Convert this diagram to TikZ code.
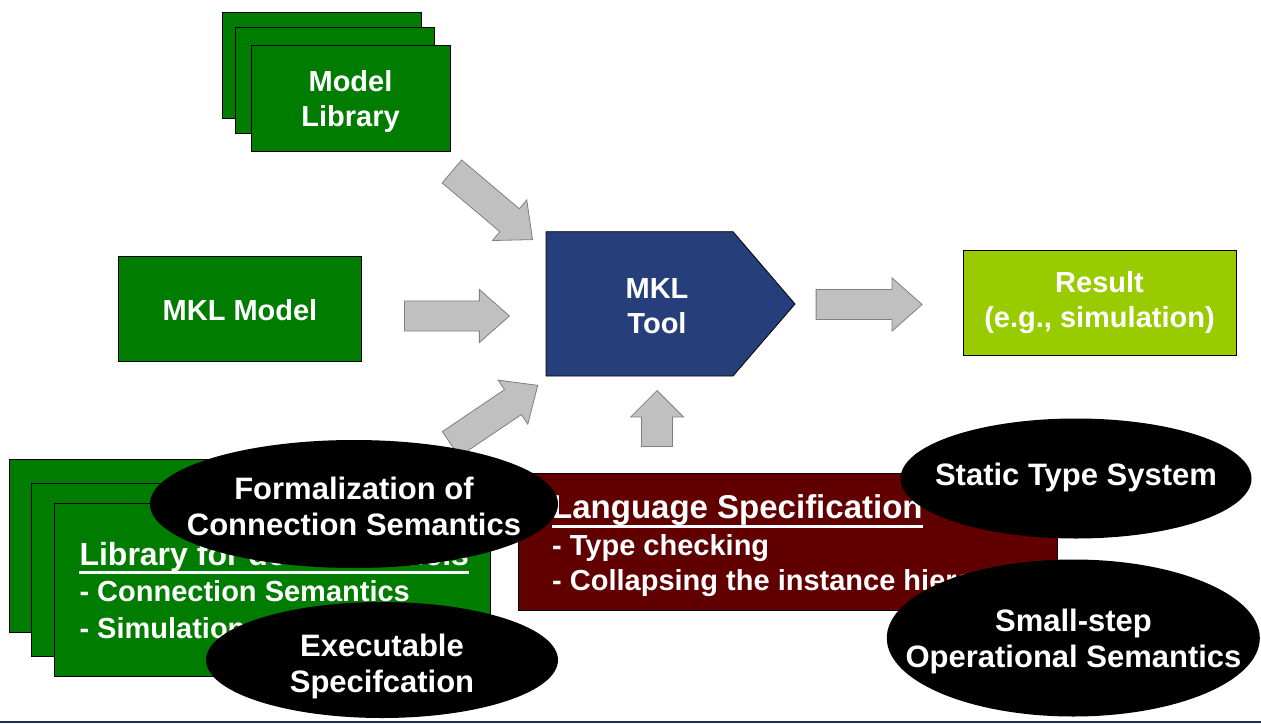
\documentclass[tikz,border=0pt]{standalone}
\usepackage{fontspec}
\setmainfont{Liberation Sans}
\usetikzlibrary{shapes.geometric,shapes.arrows}
\definecolor{boxgreen}{RGB}{0,125,0}
\definecolor{toolblue}{RGB}{38,62,122}
\definecolor{resultlime}{RGB}{153,204,0}
\definecolor{specred}{RGB}{96,0,0}
\definecolor{arrowfill}{RGB}{192,192,192}
\definecolor{arrowline}{RGB}{128,128,128}
\definecolor{navyline}{RGB}{30,40,90}
\begin{document}
\begin{tikzpicture}[x=1pt,y=-1pt,
  gbox/.style={draw=black, fill=boxgreen, line width=0.8, inner sep=0, rectangle},
  boxtext/.style={text=white, align=center, inner sep=0, font=\fontsize{29}{35}\selectfont\bfseries},
  headtext/.style={text=white, inner sep=0, anchor=base west, font=\fontsize{33}{38}\selectfont\bfseries},
  bodytext/.style={text=white, inner sep=0, anchor=base west, font=\fontsize{29}{34}\selectfont\bfseries},
  blob/.style={ellipse, fill=black, inner sep=0},
  blobtext/.style={text=white, align=center, inner sep=0, font=\fontsize{31}{36}\selectfont\bfseries},
  blockarrow/.style={single arrow, draw=arrowline, fill=arrowfill, line width=0.8, anchor=tip,
     inner xsep=0, inner ysep=14.65, minimum width=52.3, single arrow head extend=11.5, single arrow tip angle=83},
]
\useasboundingbox (0,0) rectangle (1261,723);
\fill[white] (0,0) rectangle (1261,723);

% Model library stack
\node[gbox, minimum width=198.3, minimum height=106] (mlA) at (321.8,65.7) {};
\node[gbox, minimum width=198.3, minimum height=105.7] (mlB) at (334.9,80.2) {};
\node[gbox, minimum width=198.3, minimum height=106] (mlC) at (350.9,98.7) {};
\node[boxtext] (mlT) at (350.5,101.5) {Model\\Library};

% MKL model
\node[gbox, minimum width=243, minimum height=105] (model) at (239.5,308.5) {};
\node[boxtext] (modelT) at (240,310) {MKL Model};

% MKL tool
\draw[fill=toolblue, draw=black, line width=0.8] (546,231.7) -- (733,231.7) -- (795,304) -- (733,376) -- (546,376) -- cycle;
\node[boxtext] (tool) at (657,306) {MKL\\Tool};

% Result
\node[draw=black, fill=resultlime, line width=0.8, minimum width=273, minimum height=105, inner sep=0] (result) at (1099.5,302.5) {};
\node[boxtext] (resultT) at (1099.5,303) {Result\\(e.g., simulation)};

% block arrows (placed by their tips)
\node[blockarrow, minimum height=105.6, rotate=-40.2] (a1) at (533,240) {};
\node[blockarrow, minimum height=105] (a2) at (510,316) {};
\node[blockarrow, minimum height=105, rotate=34] (a3) at (538.3,385) {};
\node[blockarrow, minimum height=106] (a4) at (922.7,304.5) {};
\node[blockarrow, minimum height=56, inner ysep=15.15, minimum width=52, single arrow head extend=10.8, single arrow tip angle=90, rotate=90] (a5) at (657,390) {};

% Library for models stack
\node[gbox, minimum width=435.4, minimum height=173.4] (libA) at (226.6,546) {};
\node[gbox, minimum width=435.4, minimum height=173.4] (libB) at (249.2,570) {};
\node[gbox, minimum width=435.4, minimum height=173.4] (libC) at (272.3,590) {};
\node[headtext, font=\fontsize{32}{38}\selectfont\bfseries] (libh) at (79.3,565) {Library for device models};
\draw[white, line width=3] ([yshift=-7.7pt]libh.base west) -- ([yshift=-7.7pt]libh.base east);
\node[bodytext] (lib1) at (79.3,601.7) {- Connection Semantics};
\node[bodytext] (lib2) at (79.3,638) {- Simulation};

% Language specification
\node[draw=black, fill=specred, line width=0.8, minimum width=538.6, minimum height=137.4, inner sep=0] (spec) at (787.7,542) {};
\node[headtext] (spech) at (552,518) {Language Specification};
\draw[white, line width=3] ([yshift=-8pt]spech.base west) -- ([yshift=-8pt]spech.base east);
\node[bodytext] (spec1) at (552,555) {- Type checking};
\node[bodytext] (spec2) at (552,590) {- Collapsing the instance hierarchy};

% ellipses
\node[blob, minimum width=408, minimum height=128] (formal) at (354,504) {};
\node[blobtext] (formalT) at (354,506) {Formalization of\\Connection Semantics};
\node[blob, minimum width=352, minimum height=116] (exec) at (382,660) {};
\node[blobtext] (execT) at (382,666) {Executable\\Specifcation};
\node[blob, minimum width=351, minimum height=120] (static) at (1076,478.5) {};
\node[blobtext] (staticT) at (1076,477) {Static Type System};
\node[blob, minimum width=373, minimum height=157] (small) at (1073.3,638) {};
\node[blobtext] (smallT) at (1073.5,641) {Small-step\\Operational Semantics};

% bottom rule
\draw[navyline, line width=2] (0,722) -- (1261,722);
\end{tikzpicture}
\end{document}
